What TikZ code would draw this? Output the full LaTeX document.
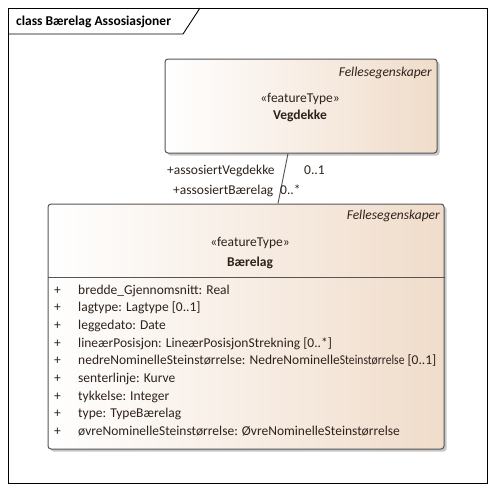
\documentclass[tikz,border=0pt]{standalone}
\usepackage{fontspec}
\usepackage{graphicx}
\setmainfont{Carlito}
\definecolor{boxtan}{HTML}{F0DCCA}
\definecolor{txt}{HTML}{2E221C}
\definecolor{edge}{HTML}{555555}
\tikzset{
  umlbox/.style={draw=edge, line width=1pt, rounded corners=3pt, left color=white, right color=boxtan, inner sep=0pt},
  shadowbox/.style={fill=black!22, rounded corners=3pt, draw=none, inner sep=0pt},
  lbl/.style={font=\fontsize{13.5}{15}\selectfont, text=txt, inner sep=0pt, anchor=base west},
  conn/.style={draw=edge, line width=0.9pt}
}
\begin{document}
\begin{tikzpicture}[x=1pt, y=-1pt]
\useasboundingbox (0,0) rectangle (495,491);
\fill[white] (0,0) rectangle (495,491);
% frame
\draw[black, line width=0.9pt] (8,8) rectangle (487,483);
\draw[black, line width=0.9pt] (8,34) -- (183,34) -- (200,8);
\node[font=\fontsize{13.5}{15}\selectfont\bfseries, anchor=base west, inner sep=0pt] (title) at (16,25) {class Bærelag Assosiasjoner};
% shadows
\node[shadowbox, minimum width=272pt, minimum height=94pt] (vegs) at (303.5,108.5) {};
\node[shadowbox, minimum width=396pt, minimum height=245pt] (bars) at (248.5,329) {};
% boxes
\node[umlbox, minimum width=272pt, minimum height=94pt] (veg) at (301,106) {};
\node[umlbox, minimum width=396pt, minimum height=245pt] (bar) at (246,326.5) {};
% Vegdekke texts
\node[font=\fontsize{13.5}{15}\selectfont\itshape, text=txt, anchor=base east, inner sep=0pt] (vf) at (432,76) {Fellesegenskaper};
\node[font=\fontsize{13.5}{15}\selectfont, text=txt, anchor=base, inner sep=0pt] (vs) at (300,102) {«featureType»};
\node[font=\fontsize{13.5}{15}\selectfont\bfseries, text=txt, anchor=base, inner sep=0pt] (vn) at (300,119) {Vegdekke};
% Baerelag texts
\node[font=\fontsize{13.5}{15}\selectfont\itshape, text=txt, anchor=base east, inner sep=0pt] (bf) at (440,219) {Fellesegenskaper};
\node[font=\fontsize{13.5}{15}\selectfont, text=txt, anchor=base, inner sep=0pt] (bs) at (250,246) {«featureType»};
\node[font=\fontsize{13.5}{15}\selectfont\bfseries, text=txt, anchor=base, inner sep=0pt] (bn) at (250,266) {Bærelag};
\draw[edge, line width=0.9pt] (bar.west |- 0,277) coordinate (dl) -- (bar.east |- 0,277) coordinate (dr);
% attributes
\foreach \i/\t in {0/{bredde\_Gjennomsnitt: Real},1/{lagtype: Lagtype [0..1]},2/{leggedato: Date},3/{lineærPosisjon: LineærPosisjonStrekning [0..*]},4/{nedreNominelleSteinstørrelse: NedreNominelle\scalebox{0.86}[1]{Steinstørrelse} [0..1]},5/{senterlinje: Kurve},6/{tykkelse: Integer},7/{type: TypeBærelag},8/{øvreNominelleSteinstørrelse: ØvreNominelleSteinstørrelse}}{
  \node[lbl] (p\i) at (54,294+17.7*\i) {+};
  \node[lbl] (a\i) at (78,294+17.7*\i) {\t};
}
% connector
\draw[conn] ([xshift=-13pt]veg.south) -- ([xshift=32pt]bar.north);
\node[lbl] (r1) at (167,174) {+assosiertVegdekke};
\node[lbl] (m1) at (304,174) {0..1};
\node[lbl] (r2) at (173,194) {+assosiertBærelag};
\node[lbl] (m2) at (280,194) {0..*};
\end{tikzpicture}
\end{document}
